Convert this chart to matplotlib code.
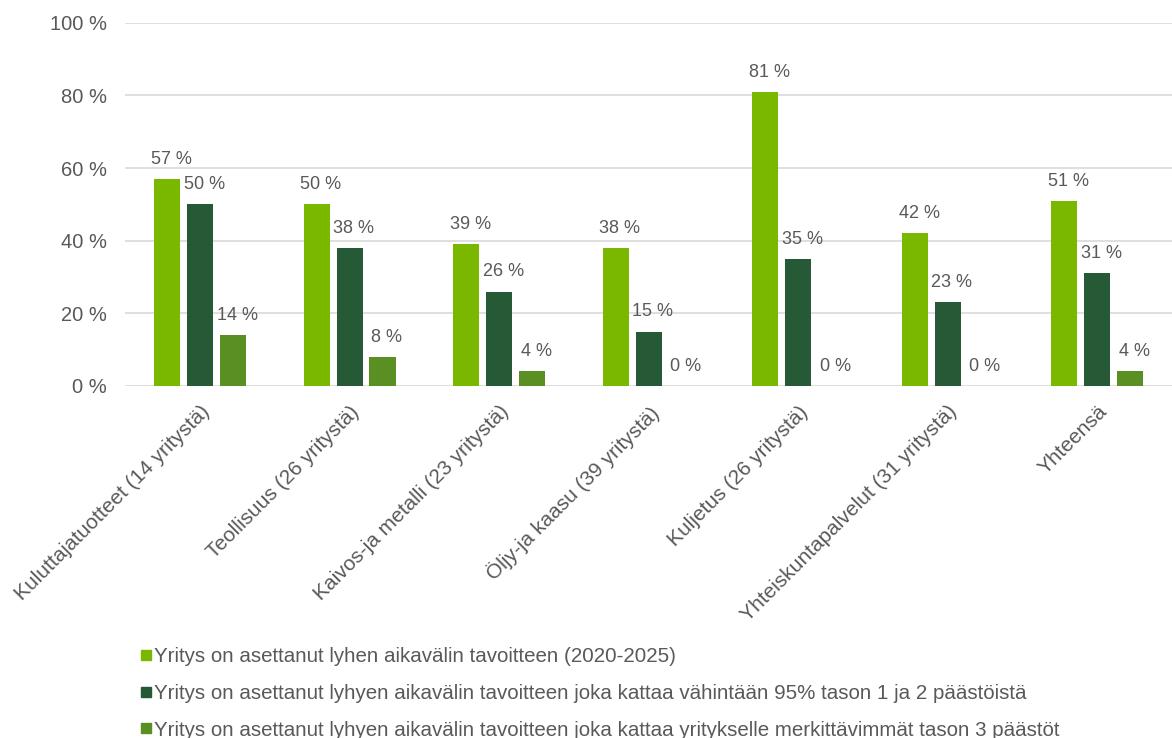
import numpy as np
import matplotlib.pyplot as plt
import matplotlib.transforms as mtrans
from matplotlib.lines import Line2D

plt.rcParams['font.family'] = ['Liberation Sans', 'DejaVu Sans']

# data
categories = ['Kuluttajatuotteet (14 yritystä)', 'Teollisuus (26 yritystä)',
              'Kaivos-ja metalli (23 yritystä)', 'Öljy-ja kaasu (39 yritystä)',
              'Kuljetus (26 yritystä)', 'Yhteiskuntapalvelut (31 yritystä)', 'Yhteensä']
short_term = [57, 50, 39, 38, 81, 42, 51]
scope12 = [50, 38, 26, 15, 35, 23, 31]
scope3 = [14, 8, 4, 0, 0, 0, 4]
series_names = ['Yritys on asettanut lyhen aikavälin tavoitteen (2020-2025)',
                'Yritys on asettanut lyhyen aikavälin tavoitteen joka kattaa vähintään 95% tason 1 ja 2 päästöistä',
                'Yritys on asettanut lyhyen aikavälin tavoitteen joka kattaa yritykselle merkittävimmät tason 3 päästöt']
colors = ['#7AB800', '#265A36', '#5A8F23']
grey = '#595959'

fig = plt.figure(figsize=(11.72, 7.38), dpi=100)
ax = fig.add_axes([0.107, 0.477, 0.893, 0.492])

x = np.arange(len(categories))
w = 0.175
offsets = [-0.22, 0, 0.22]
for vals, off, c in zip([short_term, scope12, scope3], offsets, colors):
    bars = ax.bar(x + off, vals, w, color=c, zorder=3)
    for b, v in zip(bars, vals):
        ax.annotate(f'{v} %', (b.get_x() + b.get_width() / 2, v), xytext=(3, 8),
                    textcoords='offset points', ha='center', va='bottom',
                    fontsize=13, color=grey)

ax.set_xlim(-0.5, len(categories) - 0.5)
ax.set_ylim(0, 100)
ax.set_yticks(range(0, 101, 20))
ax.set_yticklabels([f'{t} %' for t in range(0, 101, 20)], fontsize=14.5, color=grey)
ax.grid(axis='y', color='#D9D9D9', linewidth=1.2, zorder=0)
for s in ax.spines.values():
    s.set_visible(False)
ax.tick_params(length=0, pad=13.5)
ax.tick_params(axis='x', pad=6)
ax.set_xticks(x)
ax.set_xticklabels(categories, rotation=45, ha='right', rotation_mode='anchor',
                   fontsize=15, color=grey)
shift = mtrans.ScaledTranslation(0, -0.08, fig.dpi_scale_trans)
for lbl in ax.get_xticklabels():
    lbl.set_transform(lbl.get_transform() + shift)

handles = [Line2D([], [], marker='s', linestyle='', color=c, markersize=7) for c in colors]
fig.legend(handles, series_names, loc='upper left', bbox_to_anchor=(0.113, 0.134),
           frameon=False, fontsize=14.8, labelcolor=grey, handlelength=0.5,
           handletextpad=0.15, labelspacing=0.86, borderaxespad=0)

fig.savefig('out.png', dpi=100)
